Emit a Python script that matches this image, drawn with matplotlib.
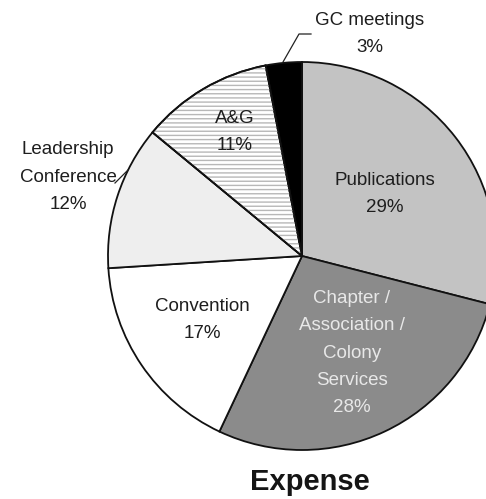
import matplotlib
matplotlib.use("Agg")
import matplotlib.pyplot as plt
from matplotlib.patches import Wedge

plt.rcParams['font.family'] = ['Liberation Sans', 'DejaVu Sans']

categories = ["Publications", "Chapter /\nAssociation /\nColony\nServices", "Convention",
              "Leadership\nConference", "A&G", "GC meetings"]
values = [29, 28, 17, 12, 11, 3]
colors = ["#c3c3c3", "#8b8b8b", "#ffffff", "#eeeeee", "#ffffff", "#000000"]
text_colors = ["#1e1e1e", "#e8e8e8", "#1e1e1e", "#1e1e1e", "#1e1e1e", "#1e1e1e"]
label_pos = [(385, 194), (352, 353), (202, 320), (68, 177), (235, 132), (370, 34)]
title = "Expense"

W, H = 486, 499
fig = plt.figure(figsize=(W / 100, H / 100), dpi=100)
ax = fig.add_axes([0, 0, 1, 1])

wedges, _ = ax.pie(values, startangle=90, counterclock=False, colors=colors,
                   center=(302, H - 256), radius=194, frame=True,
                   wedgeprops=dict(edgecolor="#111111", linewidth=1.3))
ax.set_xlim(0, W)
ax.set_ylim(0, H)
ax.set_aspect('equal')
ax.axis('off')

# horizontal line hatch on A&G
w = wedges[4]
hatch = Wedge(w.center, w.r, w.theta1, w.theta2, fill=False, hatch='----',
              edgecolor="#b8b8b8", linewidth=0, zorder=w.get_zorder() + 0.1)
ax.add_patch(hatch)
outline = Wedge(w.center, w.r, w.theta1, w.theta2, fill=False,
                edgecolor="#111111", linewidth=1.3, zorder=w.get_zorder() + 0.2)
ax.add_patch(outline)

for cat, v, (x, y), tc in zip(categories, values, label_pos, text_colors):
    ax.text(x, H - y, f"{cat}\n{v}%", ha='center', va='center', multialignment='center',
            fontsize=13.5, color=tc, linespacing=1.8, zorder=5)

# leader lines
ax.plot([283, 299, 311], [H - 62, H - 34, H - 34], color="#222222", lw=0.9, zorder=5)
ax.plot([115, 128], [H - 183, H - 170], color="#222222", lw=0.9, zorder=5)

ax.text(310, H - 482, title, ha='center', va='center', fontsize=21, fontweight='bold',
        color="#151515")

fig.savefig("out.png", dpi=100)
